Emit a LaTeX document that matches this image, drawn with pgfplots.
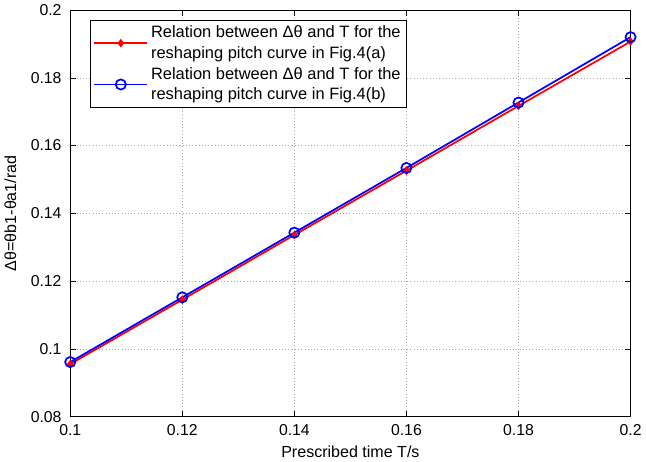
\documentclass[border=0pt]{standalone}
\usepackage{pgfplots}
\pgfplotsset{compat=1.18}
\usepackage{fontspec}
\setmainfont{Liberation Sans}
\begin{document}
\begin{tikzpicture}
\begin{axis}[
    scale only axis,
    width=419pt, height=304pt,
    xmin=0.1, xmax=0.2, ymin=0.08, ymax=0.2,
    xtick={0.1,0.12,0.14,0.16,0.18,0.2},
    ytick={0.08,0.1,0.12,0.14,0.16,0.18,0.2},
    /pgf/number format/assume math mode=true,
    /pgf/number format/fixed,
    tick align=inside,
    tick style={black, thin},
    grid=major,
    major grid style={gray!70, dotted},
    axis line style={black, thin},
    ticklabel style={font=\fontsize{11.8}{14}\selectfont},
    xticklabel style={yshift=-2pt},
    yticklabel style={xshift=-3pt},
    xlabel={Prescribed time T/s},
    ylabel={Δθ=θb1-θa1/rad},
    label style={font=\fontsize{12}{14}\selectfont},
    xlabel style={yshift=-1pt},
    ylabel style={yshift=4pt},
    legend style={font=\fontsize{12.3}{15.5}\selectfont, draw=black, fill=white,
        cells={align=left, anchor=west}, at={(0.036,0.975)}, anchor=north west,
        inner sep=2pt, row sep=1pt},
    legend cell align=left,
    legend image code/.code={\draw[mark repeat=2,mark phase=2]
        plot coordinates {(0cm,0cm) (0.7cm,0cm) (1.4cm,0cm)};},
]
\addplot[red, line width=1.3pt, mark=diamond*, mark size=2.2pt, mark options={solid, fill=red}]
  coordinates {(0.1,0.0955) (0.12,0.1145) (0.14,0.1336) (0.16,0.1526) (0.18,0.1717) (0.2,0.1907)};
\addlegendentry{Relation between Δθ and T for the\\reshaping pitch curve in Fig.4(a)}
\addplot[blue, line width=1.3pt, mark=o, mark size=3.8pt, mark options={solid, line width=1.3pt}]
  coordinates {(0.1,0.0961) (0.12,0.1152) (0.14,0.1343) (0.16,0.1534) (0.18,0.1727) (0.2,0.1920)};
\addlegendentry{Relation between Δθ and T for the\\reshaping pitch curve in Fig.4(b)}
\end{axis}
\end{tikzpicture}
\end{document}
